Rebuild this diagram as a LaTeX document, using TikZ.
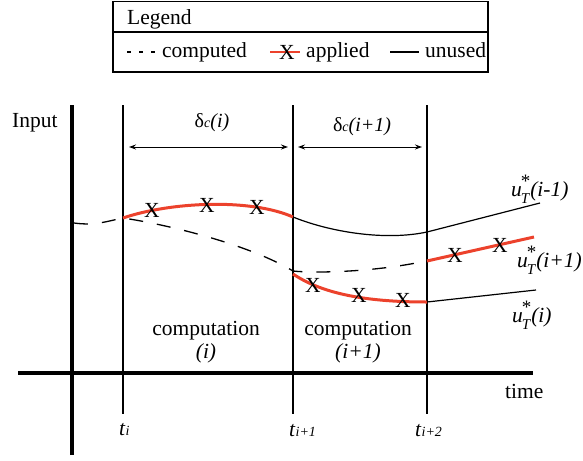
\documentclass[tikz,border=0pt]{standalone}
\usepackage{fontspec}
\setmainfont{Liberation Serif}
\usetikzlibrary{arrows.meta}
\definecolor{appred}{RGB}{236,66,44}
\newcommand\subsm[1]{{\fontsize{14}{14}\selectfont\itshape #1}}
\newcommand\ustar[1]{\textit{u}\kern-1pt\rlap{\raisebox{8.5pt}{\fontsize{19}{19}\selectfont *}}\raisebox{-7pt}{\fontsize{15}{15}\selectfont\itshape T}\kern1pt\textit{(#1)}}
\begin{document}
\begin{tikzpicture}[x=1pt,y=-1pt,
  every node/.style={inner sep=0pt, font=\fontsize{21.5}{24}\selectfont},
  txt/.style={anchor=base west},
  ctxt/.style={anchor=base},
  dtxt/.style={anchor=base, font=\fontsize{20}{24}\selectfont},
  thinline/.style={line width=1.2pt},
  axisline/.style={line width=3.2pt},
  appliedline/.style={draw=appred, line width=3pt},
  unusedline/.style={line width=1.2pt},
  computedline/.style={line width=1.3pt, dash pattern=on 14pt off 14pt},
  xmark/.style={anchor=center},
  dimline/.style={line width=1pt, {Stealth[length=7pt,width=5pt]}-{Stealth[length=7pt,width=5pt]}}
]
\useasboundingbox (0,0) rectangle (583,460);

% ---------- legend ----------
\draw[line width=1.2pt] (113,1.5) rectangle (488,72);
\draw[line width=1.5pt] (113,32) -- (488,32);
\node[txt] (legtitle) at (127,25) {Legend};
\coordinate (lc1) at (127,52); \coordinate (lc2) at (157,52);
\draw[line width=1.2pt, dash pattern=on 4pt off 8pt] (lc1) -- (lc2);
\node[txt] (legcomp) at (162,57) {computed};
\coordinate (la1) at (270,52); \coordinate (la2) at (300,52);
\draw[draw=appred, line width=2.5pt] (la1) -- (la2);
\node[xmark] (legx) at (287,52) {X};
\node[txt] (legapp) at (306,57) {applied};
\coordinate (lu1) at (390,52); \coordinate (lu2) at (419,52);
\draw[line width=1.2pt] (lu1) -- (lu2);
\node[txt] (leguse) at (425,57) {unused};

% ---------- axes ----------
\coordinate (yaxB) at (72,455); \coordinate (yaxT) at (72,105);
\coordinate (xaxL) at (18,373); \coordinate (xaxR) at (533,373);
\draw[axisline] (yaxB) -- (yaxT);
\draw[axisline] (xaxL) -- (xaxR);
\node[txt] (input) at (12,127) {Input};
\node[txt] (time) at (505,398) {time};

% ---------- time lines ----------
\coordinate (v1T) at (123,105); \coordinate (v1B) at (123,414);
\coordinate (v2T) at (293,105); \coordinate (v2B) at (293,414);
\coordinate (v3T) at (427,105); \coordinate (v3B) at (427,414);
\draw[thinline] (v1T) -- (v1B);
\draw[thinline] (v2T) -- (v2B);
\draw[thinline] (v3T) -- (v3B);
\node[txt] (ti) at (119,435) {\textit{t}\subsm{i}};
\node[txt] (ti1) at (289,436) {\textit{t}\subsm{i+1}};
\node[txt] (ti2) at (415,436) {\textit{t}\subsm{i+2}};

% ---------- delta arrows ----------
\coordinate (d1L) at (129,147); \coordinate (d1R) at (288,147);
\coordinate (d2L) at (298,147); \coordinate (d2R) at (422,147);
\draw[dimline] (d1L) -- (d1R);
\draw[dimline] (d2L) -- (d2R);
\node[dtxt] (delta1) at (212,127) {δ\subsm{c}\textit{(i)}};
\node[dtxt] (delta2) at (362,131) {δ\subsm{c}\textit{(i+1)}};

% ---------- curves ----------
\coordinate (c0) at (74,223);
\coordinate (c1) at (123,218);
\coordinate (c2) at (293,271);
\coordinate (c3) at (426,261);
\draw[computedline] (c0) .. controls (95,226) and (108,221) .. (c1)
   .. controls (170,225) and (250,245) .. (c2)
   .. controls (310,273) and (370,273) .. (c3);

\coordinate (r1a) at (123,218); \coordinate (r1b) at (293,217);
\draw[appliedline] (r1a) .. controls (170,202) and (250,198) .. (r1b);
\coordinate (u1a) at (427,232); \coordinate (u1b) at (540,203);
\draw[unusedline] (r1b) .. controls (330,232) and (385,241) .. (u1a) -- (u1b);

\coordinate (r2a) at (293,274); \coordinate (r2b) at (427,302);
\draw[appliedline] (r2a) .. controls (320,292) and (360,302) .. (r2b);
\coordinate (u2b) at (536,290);
\draw[unusedline] (r2b) -- (u2b);

\coordinate (r3a) at (427,261); \coordinate (r3b) at (534,237);
\draw[appliedline] (r3a) -- (r3b);

% ---------- X marks ----------
\node[xmark] (x1) at (152,210) {X};
\node[xmark] (x2) at (207,205) {X};
\node[xmark] (x3) at (257,207) {X};
\node[xmark] (x4) at (313,285) {X};
\node[xmark] (x5) at (359,295) {X};
\node[xmark] (x6) at (403,300) {X};
\node[xmark] (x7) at (455,255) {X};
\node[xmark] (x8) at (500,245) {X};

% ---------- curve labels ----------
\node[txt] (lab1) at (511,196) {\ustar{i-1}};
\node[txt] (lab2) at (517,267) {\ustar{i+1}};
\node[txt] (lab3) at (512,322) {\ustar{i}};

% ---------- computation labels ----------
\node[ctxt] (comp1) at (206,335) {computation};
\node[ctxt] (comp1b) at (206,358) {\textit{(i)}};
\node[ctxt] (comp2) at (358,335) {computation};
\node[ctxt] (comp2b) at (358,358) {\textit{(i+1)}};
\end{tikzpicture}
\end{document}
